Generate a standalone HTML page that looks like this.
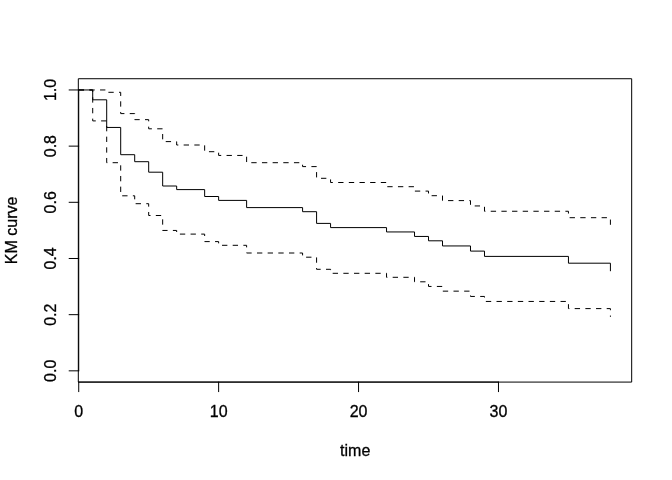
<!DOCTYPE html>
<html><head><meta charset="utf-8"><title>KM curve</title>
<style>html,body{margin:0;padding:0;background:#fff}svg{display:block;will-change:transform}text{font-family:"Liberation Sans",sans-serif;font-size:16px;fill:#000;stroke:#000;stroke-width:.3px}</style></head><body>
<svg width="672" height="480" viewBox="0 0 672 480">
<rect width="672" height="480" fill="#fff"/>
<g fill="none" stroke="#000" stroke-width="1" stroke-linecap="round" stroke-linejoin="round">
<polyline points="78.72,89.96 92.71,89.96 92.71,99.80 106.70,99.80 106.70,127.45 120.70,127.45 120.70,154.70 134.69,154.70 134.69,161.70 148.68,161.70 148.68,172.20 162.67,172.20 162.67,186.00 176.66,186.00 176.66,189.60 204.65,189.60 204.65,196.50 218.64,196.50 218.64,200.40 246.62,200.40 246.62,207.60 302.59,207.60 302.59,211.70 316.58,211.70 316.58,223.40 330.57,223.40 330.57,227.60 386.54,227.60 386.54,231.95 414.53,231.95 414.53,236.45 428.52,236.45 428.52,240.80 442.51,240.80 442.51,245.95 470.49,245.95 470.49,251.10 484.49,251.10 484.49,256.40 568.44,256.40 568.44,263.20 610.41,263.20 610.41,270.80"/>
<polyline points="78.72,89.96 92.71,89.96 106.70,89.96 106.70,92.30 120.70,92.30 120.70,113.60 134.69,113.60 134.69,119.65 148.68,119.65 148.68,128.80 162.67,128.80 162.67,141.60 176.66,141.60 176.66,145.00 204.65,145.00 204.65,151.70 218.64,151.70 218.64,155.45 246.62,155.45 246.62,162.70 302.59,162.70 302.59,166.60 316.58,166.60 316.58,178.30 330.57,178.30 330.57,182.50 386.54,182.50 386.54,186.70 414.53,186.70 414.53,191.10 428.52,191.10 428.52,195.70 442.51,195.70 442.51,200.60 470.49,200.60 470.49,205.95 484.49,205.95 484.49,211.25 568.44,211.25 568.44,217.70 610.41,217.70 610.41,224.80" stroke-dasharray="5.333 5.333" stroke-linecap="butt"/>
<polyline points="78.72,89.96 92.71,89.96 92.71,120.90 106.70,120.90 106.70,162.70 120.70,162.70 120.70,195.80 134.69,195.80 134.69,203.70 148.68,203.70 148.68,215.50 162.67,215.50 162.67,230.45 176.66,230.45 176.66,234.10 204.65,234.10 204.65,241.60 218.64,241.60 218.64,245.30 246.62,245.30 246.62,253.00 302.59,253.00 302.59,257.20 316.58,257.20 316.58,269.30 330.57,269.30 330.57,273.30 386.54,273.30 386.54,277.30 414.53,277.30 414.53,281.80 428.52,281.80 428.52,286.45 442.51,286.45 442.51,291.15 470.49,291.15 470.49,296.45 484.49,296.45 484.49,301.45 568.44,301.45 568.44,308.60 610.41,308.60 610.41,316.80" stroke-dasharray="5.333 5.333" stroke-linecap="butt"/>
<path d="M78.72,382.08H498.48"/>
<path d="M78.72,382.08v9.6"/>
<path d="M218.64,382.08v9.6"/>
<path d="M358.56,382.08v9.6"/>
<path d="M498.48,382.08v9.6"/>
<path d="M78.72,370.84V89.96"/>
<path d="M78.72,370.84h-9.6"/>
<path d="M78.72,314.67h-9.6"/>
<path d="M78.72,258.49h-9.6"/>
<path d="M78.72,202.31h-9.6"/>
<path d="M78.72,146.13h-9.6"/>
<path d="M78.72,89.96h-9.6"/>
<rect x="78.72" y="78.72" width="552.96" height="303.36"/>
</g>
<text x="78.72" y="416.64" text-anchor="middle">0</text>
<text x="218.64" y="416.64" text-anchor="middle">10</text>
<text x="358.56" y="416.64" text-anchor="middle">20</text>
<text x="498.48" y="416.64" text-anchor="middle">30</text>
<text transform="translate(55.68,370.84) rotate(-90)" text-anchor="middle">0.0</text>
<text transform="translate(55.68,314.67) rotate(-90)" text-anchor="middle">0.2</text>
<text transform="translate(55.68,258.49) rotate(-90)" text-anchor="middle">0.4</text>
<text transform="translate(55.68,202.31) rotate(-90)" text-anchor="middle">0.6</text>
<text transform="translate(55.68,146.13) rotate(-90)" text-anchor="middle">0.8</text>
<text transform="translate(55.68,89.96) rotate(-90)" text-anchor="middle">1.0</text>
<text x="355.20" y="455.94" text-anchor="middle">time</text>
<text transform="translate(17.28,230.40) rotate(-90)" text-anchor="middle">KM curve</text>
</svg></body></html>
